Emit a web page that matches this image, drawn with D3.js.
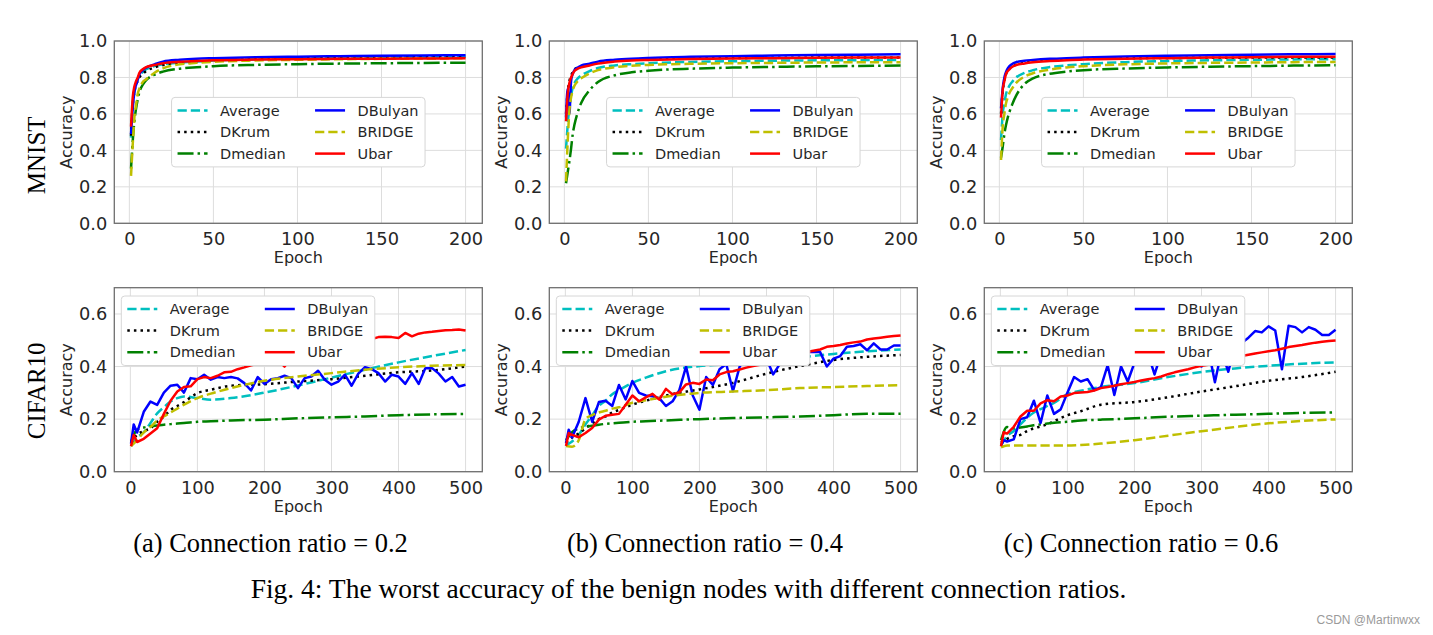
<!DOCTYPE html>
<html><head><meta charset="utf-8">
<script src="https://cdn.jsdelivr.net/npm/d3@7"></script>
<style>body{margin:0;background:#fff}svg{display:block}</style>
</head><body><svg id="c" width="1433" height="635"></svg>
<script>
// ---------- data ----------
const seriesNames = ["Average","DKrum","Dmedian","DBulyan","BRIDGE","Ubar"];
const rowLabels = ["MNIST","CIFAR10"];
const captions = ["(a) Connection ratio = 0.2","(b) Connection ratio = 0.4","(c) Connection ratio = 0.6"];
const figCaption = "Fig. 4: The worst accuracy of the benign nodes with different connection ratios.";
const watermark = "CSDN @Martinwxx";

const mnistXTicks = [0,50,100,150,200];
const mnistYTicks = [0,0.2,0.4,0.6,0.8,1.0];
const cifarXTicks = [0,100,200,300,400,500];
const cifarYTicks = [0,0.2,0.4,0.6];

const mnistEpochs = [1,2,3,4,5,6,8,10,15,20,30,40,50,75,100,125,150,175,200];
const cifarEpochsFine = [1,5,10,20,30,40,50,60,70,80,90,100,110,120,130,140,150,160,170,180,190,200,210,220,230,240,250,260,270,280,290,300,310,320,330,340,350,360,370,380,390,400,410,420,430,440,450,460,470,480,490,500];
const cifarEpochsCoarse = [1,10,20,30,40,50,60,70,80,100,120,150,200,250,300,350,400,450,500];

// MNIST, ratio 0.2
const mnistA_Average = [0.47,0.64,0.72,0.76,0.79,0.81,0.83,0.845,0.862,0.872,0.882,0.888,0.893,0.9,0.905,0.908,0.91,0.912,0.913];
const mnistA_DKrum   = [0.48,0.65,0.72,0.76,0.78,0.80,0.82,0.835,0.855,0.868,0.88,0.887,0.892,0.9,0.904,0.907,0.909,0.911,0.912];
const mnistA_Dmedian = [0.30,0.45,0.56,0.63,0.68,0.72,0.76,0.785,0.815,0.832,0.848,0.856,0.862,0.869,0.873,0.876,0.878,0.88,0.881];
const mnistA_DBulyan = [0.49,0.63,0.72,0.76,0.79,0.817,0.84,0.854,0.872,0.887,0.897,0.903,0.906,0.911,0.914,0.917,0.919,0.921,0.922];
const mnistA_BRIDGE  = [0.26,0.43,0.58,0.65,0.71,0.74,0.775,0.79,0.826,0.85,0.872,0.88,0.886,0.893,0.897,0.9,0.902,0.904,0.905];
const mnistA_Ubar    = [0.53,0.69,0.75,0.78,0.80,0.826,0.845,0.857,0.868,0.878,0.886,0.89,0.894,0.898,0.9,0.902,0.903,0.904,0.905];
// MNIST, ratio 0.4
const mnistB_Average = [0.41,0.54,0.64,0.70,0.745,0.77,0.795,0.81,0.835,0.852,0.866,0.873,0.878,0.885,0.889,0.892,0.894,0.895,0.896];
const mnistB_DKrum   = [0.6,0.72,0.78,0.81,0.83,0.845,0.855,0.862,0.872,0.882,0.893,0.898,0.901,0.905,0.907,0.908,0.909,0.91,0.91];
const mnistB_Dmedian = [0.22,0.28,0.34,0.41,0.49,0.54,0.61,0.66,0.73,0.775,0.812,0.828,0.837,0.848,0.854,0.858,0.861,0.863,0.865];
const mnistB_DBulyan = [0.58,0.74,0.6,0.78,0.82,0.84,0.855,0.865,0.875,0.887,0.897,0.903,0.907,0.913,0.917,0.92,0.923,0.925,0.927];
const mnistB_BRIDGE  = [0.23,0.45,0.62,0.69,0.73,0.755,0.78,0.795,0.822,0.84,0.856,0.864,0.869,0.875,0.878,0.88,0.882,0.883,0.883];
const mnistB_Ubar    = [0.56,0.71,0.77,0.8,0.82,0.835,0.848,0.855,0.866,0.876,0.887,0.893,0.896,0.901,0.904,0.906,0.908,0.909,0.91];
// MNIST, ratio 0.6
const mnistC_Average = [0.457,0.6,0.66,0.71,0.735,0.755,0.78,0.80,0.825,0.84,0.857,0.866,0.873,0.884,0.89,0.894,0.897,0.899,0.9];
const mnistC_DKrum   = [0.6,0.72,0.79,0.82,0.84,0.85,0.862,0.87,0.88,0.888,0.895,0.899,0.902,0.905,0.907,0.908,0.909,0.91,0.91];
const mnistC_Dmedian = [0.36,0.42,0.49,0.54,0.58,0.61,0.66,0.70,0.765,0.795,0.82,0.832,0.84,0.849,0.855,0.859,0.862,0.865,0.867];
const mnistC_DBulyan = [0.63,0.74,0.8,0.83,0.85,0.862,0.876,0.884,0.892,0.896,0.902,0.906,0.909,0.915,0.919,0.922,0.925,0.927,0.929];
const mnistC_BRIDGE  = [0.347,0.53,0.6,0.66,0.69,0.715,0.745,0.77,0.805,0.823,0.843,0.855,0.862,0.872,0.877,0.88,0.882,0.884,0.885];
const mnistC_Ubar    = [0.58,0.73,0.78,0.82,0.835,0.845,0.86,0.868,0.877,0.883,0.89,0.895,0.898,0.903,0.906,0.909,0.911,0.913,0.914];

// CIFAR10, ratio 0.2  (DBulyan / Ubar on fine epochs, others on coarse epochs)
const cifarA_Average = [0.097,0.13,0.15,0.185,0.222,0.245,0.267,0.28,0.286,0.28,0.274,0.28,0.301,0.328,0.358,0.388,0.416,0.44,0.463];
const cifarA_DKrum   = [0.11,0.14,0.155,0.165,0.19,0.21,0.235,0.25,0.265,0.299,0.312,0.327,0.333,0.343,0.352,0.365,0.378,0.385,0.40];
const cifarA_Dmedian = [0.114,0.16,0.168,0.173,0.176,0.179,0.181,0.183,0.185,0.19,0.192,0.195,0.198,0.203,0.207,0.21,0.215,0.218,0.22];
const cifarA_DBulyan = [0.107,0.18,0.149,0.228,0.267,0.254,0.301,0.327,0.331,0.301,0.356,0.352,0.369,0.35,0.36,0.356,0.36,0.355,0.337,0.309,0.36,0.334,0.352,0.356,0.365,0.356,0.318,0.356,0.362,0.384,0.35,0.331,0.343,0.369,0.327,0.373,0.398,0.39,0.375,0.343,0.369,0.362,0.334,0.375,0.334,0.394,0.394,0.373,0.343,0.36,0.324,0.331];
const cifarA_BRIDGE  = [0.097,0.12,0.15,0.17,0.195,0.21,0.225,0.24,0.255,0.28,0.297,0.318,0.346,0.362,0.375,0.388,0.397,0.403,0.406];
const cifarA_Ubar    = [0.097,0.14,0.113,0.125,0.145,0.165,0.22,0.27,0.305,0.322,0.325,0.352,0.36,0.356,0.365,0.378,0.38,0.39,0.397,0.405,0.41,0.415,0.42,0.425,0.40,0.43,0.44,0.45,0.455,0.46,0.47,0.475,0.48,0.485,0.49,0.495,0.50,0.505,0.512,0.513,0.512,0.509,0.528,0.515,0.525,0.53,0.532,0.535,0.538,0.539,0.541,0.537];
// CIFAR10, ratio 0.4
const cifarB_Average = [0.10,0.115,0.14,0.18,0.215,0.25,0.27,0.295,0.31,0.338,0.358,0.382,0.402,0.41,0.42,0.435,0.448,0.458,0.465];
const cifarB_DKrum   = [0.11,0.13,0.145,0.165,0.185,0.2,0.21,0.225,0.235,0.255,0.27,0.29,0.313,0.338,0.373,0.402,0.425,0.437,0.444];
const cifarB_Dmedian = [0.12,0.15,0.165,0.17,0.175,0.179,0.182,0.184,0.186,0.19,0.192,0.195,0.2,0.204,0.207,0.21,0.215,0.22,0.22];
const cifarB_DBulyan = [0.108,0.16,0.13,0.19,0.28,0.19,0.265,0.27,0.25,0.33,0.275,0.345,0.30,0.29,0.287,0.28,0.25,0.268,0.31,0.40,0.29,0.236,0.36,0.33,0.39,0.41,0.306,0.40,0.43,0.44,0.45,0.43,0.37,0.41,0.44,0.45,0.46,0.455,0.455,0.455,0.40,0.43,0.44,0.475,0.478,0.485,0.462,0.488,0.465,0.465,0.48,0.48];
const cifarB_BRIDGE  = [0.098,0.095,0.12,0.2,0.215,0.225,0.232,0.24,0.245,0.262,0.272,0.285,0.30,0.305,0.31,0.318,0.322,0.326,0.329];
const cifarB_Ubar    = [0.098,0.147,0.14,0.131,0.147,0.166,0.198,0.213,0.217,0.22,0.255,0.29,0.268,0.283,0.296,0.274,0.315,0.294,0.302,0.332,0.338,0.334,0.351,0.348,0.37,0.379,0.382,0.389,0.396,0.402,0.407,0.41,0.415,0.42,0.43,0.435,0.445,0.455,0.46,0.465,0.475,0.478,0.482,0.488,0.492,0.495,0.503,0.507,0.51,0.513,0.516,0.518];
// CIFAR10, ratio 0.6
const cifarC_Average = [0.10,0.135,0.155,0.18,0.205,0.225,0.238,0.25,0.262,0.295,0.308,0.322,0.337,0.36,0.379,0.393,0.403,0.411,0.416];
const cifarC_DKrum   = [0.11,0.125,0.135,0.14,0.155,0.165,0.172,0.18,0.192,0.215,0.23,0.255,0.265,0.283,0.305,0.325,0.346,0.36,0.38];
const cifarC_Dmedian = [0.12,0.17,0.165,0.168,0.172,0.177,0.18,0.183,0.186,0.19,0.195,0.198,0.203,0.209,0.213,0.217,0.22,0.224,0.225];
const cifarC_DBulyan = [0.10,0.12,0.115,0.123,0.2,0.207,0.27,0.185,0.29,0.22,0.237,0.30,0.36,0.343,0.352,0.31,0.322,0.405,0.292,0.40,0.343,0.414,0.44,0.45,0.37,0.45,0.46,0.44,0.47,0.46,0.45,0.40,0.47,0.34,0.46,0.38,0.48,0.49,0.51,0.535,0.53,0.553,0.537,0.39,0.555,0.55,0.53,0.55,0.54,0.52,0.52,0.54];
const cifarC_BRIDGE  = [0.093,0.1,0.1,0.1,0.1,0.1,0.1,0.1,0.1,0.1,0.102,0.107,0.12,0.137,0.154,0.17,0.184,0.193,0.199];
const cifarC_Ubar    = [0.097,0.15,0.145,0.171,0.21,0.232,0.232,0.26,0.272,0.268,0.286,0.29,0.299,0.301,0.303,0.309,0.318,0.322,0.327,0.333,0.337,0.341,0.347,0.352,0.356,0.362,0.371,0.378,0.384,0.39,0.397,0.403,0.407,0.413,0.418,0.424,0.432,0.44,0.445,0.45,0.454,0.458,0.462,0.468,0.474,0.478,0.482,0.487,0.491,0.494,0.497,0.499];

// ---------- styles ----------
const LW = 2.5;
const styles = {
  Average: {color:"#00bfbf", dash:[9.25,4]},
  DKrum:   {color:"#000000", dash:[2.5,4.1]},
  Dmedian: {color:"#008000", dash:[16,4,2.5,4]},
  DBulyan: {color:"#0000ff", dash:null},
  BRIDGE:  {color:"#bfbf00", dash:[9.25,4]},
  Ubar:    {color:"#ff0000", dash:null}
};
const TXT = "#262626";
const SANS = "'DejaVu Sans', sans-serif";
const SERIF = "'Liberation Serif', 'Times New Roman', serif";

// ---------- panel table ----------
const colLefts = [114.3, 549.3, 984.3];
const PW = 368;
const rows = [
  {top:41, h:182.3, xDomain:[-8.95,209.95], yDomain:[0,1.0], xTicks:mnistXTicks, yTicks:mnistYTicks, legend:"center",
   data:[
     {Average:mnistA_Average,DKrum:mnistA_DKrum,Dmedian:mnistA_Dmedian,DBulyan:mnistA_DBulyan,BRIDGE:mnistA_BRIDGE,Ubar:mnistA_Ubar},
     {Average:mnistB_Average,DKrum:mnistB_DKrum,Dmedian:mnistB_Dmedian,DBulyan:mnistB_DBulyan,BRIDGE:mnistB_BRIDGE,Ubar:mnistB_Ubar},
     {Average:mnistC_Average,DKrum:mnistC_DKrum,Dmedian:mnistC_Dmedian,DBulyan:mnistC_DBulyan,BRIDGE:mnistC_BRIDGE,Ubar:mnistC_Ubar}],
   epochs:{Average:mnistEpochs,DKrum:mnistEpochs,Dmedian:mnistEpochs,DBulyan:mnistEpochs,BRIDGE:mnistEpochs,Ubar:mnistEpochs},
   smooth:{Average:true,DKrum:true,Dmedian:true,DBulyan:true,BRIDGE:true,Ubar:true}},
  {top:287.7, h:184, xDomain:[-23.95,524.95], yDomain:[0,0.7], xTicks:cifarXTicks, yTicks:cifarYTicks, legend:"upper left",
   data:[
     {Average:cifarA_Average,DKrum:cifarA_DKrum,Dmedian:cifarA_Dmedian,DBulyan:cifarA_DBulyan,BRIDGE:cifarA_BRIDGE,Ubar:cifarA_Ubar},
     {Average:cifarB_Average,DKrum:cifarB_DKrum,Dmedian:cifarB_Dmedian,DBulyan:cifarB_DBulyan,BRIDGE:cifarB_BRIDGE,Ubar:cifarB_Ubar},
     {Average:cifarC_Average,DKrum:cifarC_DKrum,Dmedian:cifarC_Dmedian,DBulyan:cifarC_DBulyan,BRIDGE:cifarC_BRIDGE,Ubar:cifarC_Ubar}],
   epochs:{Average:cifarEpochsCoarse,DKrum:cifarEpochsCoarse,Dmedian:cifarEpochsCoarse,DBulyan:cifarEpochsFine,BRIDGE:cifarEpochsCoarse,Ubar:cifarEpochsFine},
   smooth:{Average:true,DKrum:true,Dmedian:true,DBulyan:false,BRIDGE:true,Ubar:false}}
];

const svg = d3.select("#c");
svg.append("rect").attr("width",1433).attr("height",635).attr("fill","#fff");
const defs = svg.append("defs");

rows.forEach((row, ri) => {
  colLefts.forEach((left, ci) => {
    const top = row.top, h = row.h;
    const x = d3.scaleLinear().domain(row.xDomain).range([left, left+PW]);
    const y = d3.scaleLinear().domain(row.yDomain).range([top+h, top]);
    const g = svg.append("g");
    const cid = `clip${ri}${ci}`;
    defs.append("clipPath").attr("id",cid).append("rect")
      .attr("x",left).attr("y",top).attr("width",PW).attr("height",h);

    // grid
    g.append("g").selectAll("line").data(row.xTicks).join("line")
      .attr("x1",d=>x(d)).attr("x2",d=>x(d)).attr("y1",top).attr("y2",top+h)
      .attr("stroke","#dddddd").attr("stroke-width",1);
    g.append("g").selectAll("line").data(row.yTicks).join("line")
      .attr("x1",left).attr("x2",left+PW).attr("y1",d=>y(d)).attr("y2",d=>y(d))
      .attr("stroke","#dddddd").attr("stroke-width",1);

    // axes
    const xa = g.append("g").attr("transform",`translate(0,${top+h})`)
      .call(d3.axisBottom(x).tickValues(row.xTicks).tickSize(0).tickPadding(9.5).tickFormat(d3.format("d")));
    const ya = g.append("g").attr("transform",`translate(${left},0)`)
      .call(d3.axisLeft(y).tickValues(row.yTicks).tickSize(0).tickPadding(7).tickFormat(d3.format(".1f")));
    [xa,ya].forEach(a => {
      a.select(".domain").remove();
      a.attr("font-family",null).attr("font-size",null);
      a.selectAll("text").attr("fill",TXT).style("font-family",SANS).style("font-size","17.8px");
    });

    // series
    const lines = g.append("g").attr("clip-path",`url(#${cid})`);
    seriesNames.forEach(name => {
      const xs = row.epochs[name], ys = row.data[ci][name];
      const pts = xs.map((e,i)=>[e, ys[i]]);
      const line = d3.line().x(d=>x(d[0])).y(d=>y(d[1]))
        .curve(row.smooth[name] ? d3.curveMonotoneX : d3.curveLinear);
      lines.append("path").attr("d",line(pts)).attr("fill","none")
        .attr("stroke",styles[name].color).attr("stroke-width",LW)
        .attr("stroke-linejoin","round")
        .attr("stroke-dasharray",styles[name].dash ? styles[name].dash.join(",") : null);
    });

    // legend
    const LWID = 253.5, LH = 69.5;
    let lx, ly;
    if (row.legend === "center") { lx = left + (PW-LWID)/2; ly = top + (h-LH)/2; }
    else { lx = left + 7; ly = top + 8.3; }
    const lg = g.append("g").attr("transform",`translate(${lx},${ly})`);
    lg.append("rect").attr("width",LWID).attr("height",LH).attr("rx",3.5)
      .attr("fill","#fff").attr("stroke","#d6d6d6").attr("stroke-width",1);
    seriesNames.forEach((name,i) => {
      const col = Math.floor(i/3), r = i%3;
      const cx = col === 0 ? 6 : 143.5;
      const cy = 13 + r*21.6;
      lg.append("line").attr("x1",cx).attr("x2",cx+30).attr("y1",cy).attr("y2",cy)
        .attr("stroke",styles[name].color).attr("stroke-width",LW)
        .attr("stroke-dasharray",styles[name].dash ? styles[name].dash.join(",") : null);
      lg.append("text").attr("x",cx+42.5).attr("y",cy).attr("dy","0.36em")
        .attr("fill",TXT).style("font-family",SANS).style("font-size","14.5px").text(name);
    });

    // frame
    g.append("rect").attr("x",left).attr("y",top).attr("width",PW).attr("height",h)
      .attr("fill","none").attr("stroke","#6f6f6f").attr("stroke-width",1.3);

    // axis titles
    g.append("text").attr("x",left+PW/2).attr("y",top+h+40).attr("text-anchor","middle")
      .attr("fill",TXT).style("font-family",SANS).style("font-size","16px").text("Epoch");
    g.append("text").attr("transform",`translate(${left-42.6},${top+h/2}) rotate(-90)`)
      .attr("text-anchor","middle").attr("fill",TXT).style("font-family",SANS).style("font-size","16px").text("Accuracy");
  });

  // row label
  svg.append("text").attr("transform",`translate(45,${ri===0?155.3:390.8}) rotate(-90)`)
    .attr("text-anchor","middle").attr("fill","#000").style("font-family",SERIF).style("font-size","25px")
    .text(rowLabels[ri]);
});

// captions
const capX = [270.5, 705, 1141];
captions.forEach((c,i) => {
  svg.append("text").attr("x",capX[i]).attr("y",552).attr("text-anchor","middle")
    .attr("fill","#000").style("font-family",SERIF).style("font-size","26.5px").text(c);
});
svg.append("text").attr("x",688.5).attr("y",598).attr("text-anchor","middle")
  .attr("fill","#000").style("font-family",SERIF).style("font-size","27.5px").text(figCaption);
svg.append("text").attr("x",1420).attr("y",624).attr("text-anchor","end")
  .attr("fill","#9a9a9a").style("font-family","'Liberation Sans Narrow','Liberation Sans', sans-serif").style("font-size","12px").text(watermark);
</script></body></html>
